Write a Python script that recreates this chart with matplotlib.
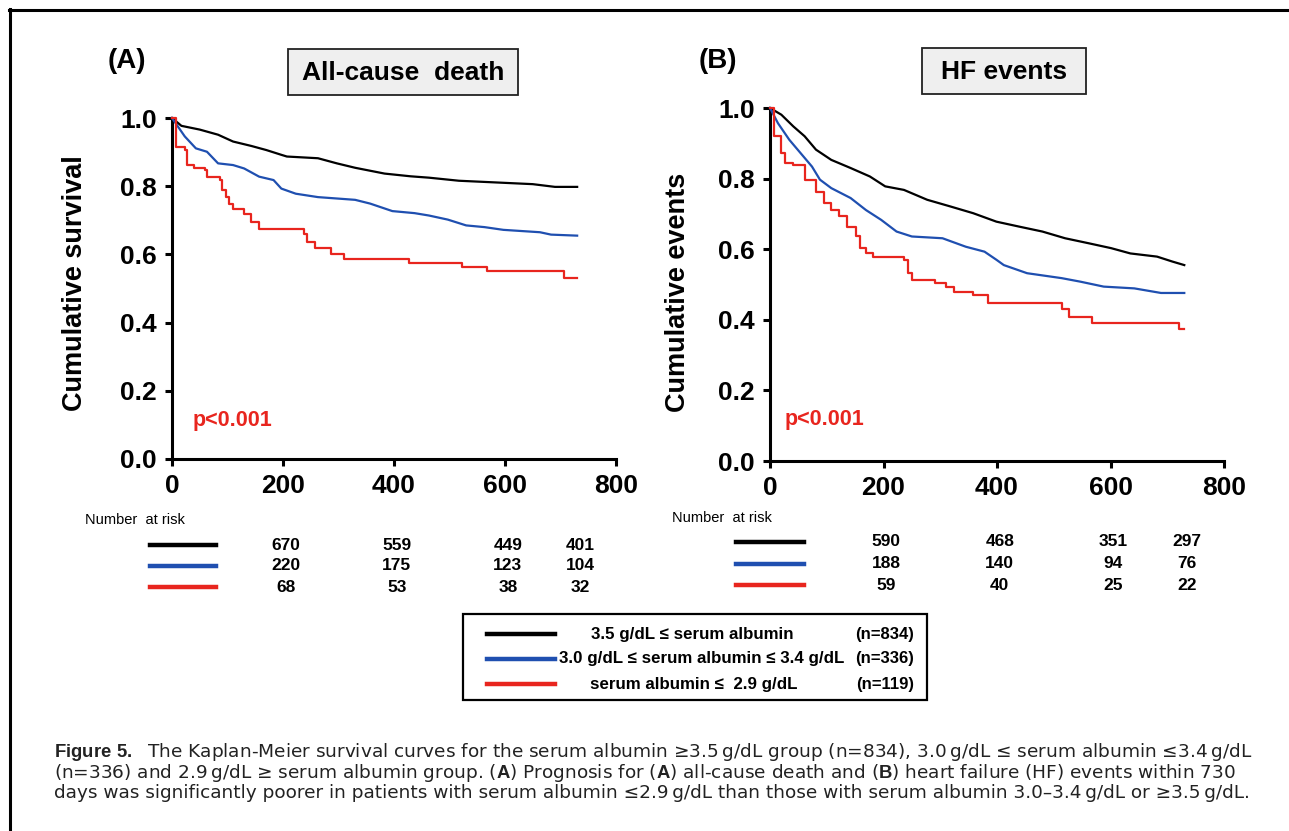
import numpy as np
import matplotlib
matplotlib.use("Agg")
import matplotlib.pyplot as plt
import matplotlib.transforms as mtrans
from matplotlib.patches import Rectangle
from matplotlib.lines import Line2D

# ---------------------------------------------------------------------------
# Data (days, survival)
# ---------------------------------------------------------------------------

death_hi_days = [0, 17, 50, 83, 110, 143, 170, 197, 207, 263, 297, 330, 383, 430,
                 463, 517, 597, 650, 690, 730]
death_hi_surv = [1.0, 0.977, 0.966, 0.951, 0.931, 0.918, 0.906, 0.892, 0.887, 0.882,
                 0.867, 0.854, 0.837, 0.829, 0.825, 0.816, 0.810, 0.806, 0.798, 0.798]

death_mid_days = [0, 23, 43, 63, 83, 110, 130, 157, 183, 197, 223, 263, 330, 357, 397,
                  437, 463, 497, 530, 563, 597, 663, 683, 730]
death_mid_surv = [1.0, 0.946, 0.911, 0.901, 0.867, 0.862, 0.852, 0.828, 0.818, 0.793,
                  0.778, 0.768, 0.760, 0.749, 0.727, 0.721, 0.714, 0.702, 0.685, 0.680,
                  0.672, 0.665, 0.658, 0.655]

death_lo_days = [0, 7, 23, 27, 40, 60, 63, 87, 90, 97, 103, 110, 130, 143, 157, 237,
                 243, 257, 287, 310, 427, 523, 567, 707, 730]
death_lo_surv = [1.0, 0.916, 0.906, 0.862, 0.852, 0.847, 0.828, 0.818, 0.788, 0.768,
                 0.749, 0.734, 0.719, 0.695, 0.675, 0.660, 0.635, 0.618, 0.601, 0.586,
                 0.576, 0.562, 0.552, 0.532, 0.532]

hf_hi_days = [0, 20, 41, 61, 81, 108, 142, 176, 203, 236, 277, 318, 358, 399, 439,
              480, 520, 561, 601, 635, 682, 709, 730]
hf_hi_surv = [1.0, 0.981, 0.948, 0.920, 0.882, 0.853, 0.830, 0.806, 0.778, 0.768,
              0.740, 0.721, 0.702, 0.678, 0.664, 0.650, 0.631, 0.617, 0.603, 0.588,
              0.579, 0.565, 0.555]

hf_mid_days = [0, 14, 34, 54, 74, 88, 108, 142, 169, 196, 223, 250, 304, 345, 378,
               399, 412, 453, 514, 547, 588, 642, 689, 730]
hf_mid_surv = [1.0, 0.957, 0.910, 0.872, 0.834, 0.797, 0.773, 0.745, 0.711, 0.683,
               0.650, 0.636, 0.631, 0.607, 0.593, 0.570, 0.555, 0.532, 0.518, 0.508,
               0.494, 0.489, 0.476, 0.476]

hf_lo_days = [0, 7, 20, 27, 41, 61, 81, 95, 108, 122, 135, 152, 159, 169, 182, 236,
              243, 250, 291, 311, 324, 358, 385, 514, 527, 568, 720, 730]
hf_lo_surv = [1.0, 0.920, 0.872, 0.844, 0.839, 0.797, 0.763, 0.730, 0.711, 0.693,
              0.664, 0.636, 0.603, 0.588, 0.579, 0.570, 0.532, 0.513, 0.503, 0.494,
              0.480, 0.470, 0.447, 0.432, 0.409, 0.392, 0.373, 0.373]

risk_days = [200, 400, 600, 730]
death_risk_hi = [670, 559, 449, 401]
death_risk_mid = [220, 175, 123, 104]
death_risk_lo = [68, 53, 38, 32]
hf_risk_hi = [590, 468, 351, 297]
hf_risk_mid = [188, 140, 94, 76]
hf_risk_lo = [59, 40, 25, 22]

group_labels = ["3.5 g/dL \u2264 serum albumin",
                "3.0 g/dL \u2264 serum albumin \u2264 3.4 g/dL",
                "serum albumin \u2264  2.9 g/dL"]
group_n = ["(n=834)", "(n=336)", "(n=119)"]

caption_lines = [
    "$\\mathbf{Figure\\ 5.}$  The Kaplan-Meier survival curves for the serum albumin "
    "\u22653.5\u2009g/dL group (n=834), 3.0\u2009g/dL \u2264 serum albumin \u22643.4\u2009g/dL",
    "(n=336) and 2.9\u2009g/dL \u2265 serum albumin group. ($\\mathbf{A}$) Prognosis for "
    "($\\mathbf{A}$) all-cause death and ($\\mathbf{B}$) heart failure (HF) events within 730",
    "days was significantly poorer in patients with serum albumin \u22642.9\u2009g/dL than "
    "those with serum albumin 3.0\u20133.4\u2009g/dL or \u22653.5\u2009g/dL.",
]

BLACK, BLUE, RED = "#000000", "#1f4fb0", "#e8251e"
colors = [BLACK, BLUE, RED]
# many tiny steps in the big groups read as a smooth line; the small group shows stairs
styles = ['default', 'default', 'steps-post']

# ---------------------------------------------------------------------------
# Figure setup (pixel helpers: layout measured on a 1289x831 canvas)
# ---------------------------------------------------------------------------

plt.rcParams['font.family'] = ['Liberation Sans', 'DejaVu Sans']
plt.rcParams['mathtext.fontset'] = 'custom'
plt.rcParams['mathtext.rm'] = 'DejaVu Sans'
plt.rcParams['mathtext.bf'] = 'Liberation Sans:bold'

W, H = 1289, 831
fig = plt.figure(figsize=(W / 100, H / 100), dpi=100)
NARROW = ['Liberation Sans Narrow', 'Liberation Sans', 'DejaVu Sans']


def fx(x):
    return x / W


def fy(y):
    return 1 - y / H


def ftext(x, y, s, **kw):
    return fig.text(fx(x), fy(y), s, **kw)


def panel(left, top, right, bottom, curves, ylabel, title_box, tag, tag_xy,
          ylab_xy, p_xy, risk_rows, risk_left, risk_lines):
    ax = fig.add_axes([fx(left), fy(bottom), fx(right) - fx(left), fy(top) - fy(bottom)])
    for (d, s), c, ds in zip(curves, colors, styles):
        ax.plot(d, s, drawstyle=ds, color=c, lw=1.6, clip_on=False, zorder=3)
    ax.set_xlim(0, 800)
    ax.set_ylim(0, 1)
    ax.set_xticks([0, 200, 400, 600, 800])
    ax.set_yticks(np.arange(0, 1.01, 0.2))
    ax.yaxis.set_major_formatter(plt.FormatStrFormatter('%.1f'))
    for s in ['top', 'right']:
        ax.spines[s].set_visible(False)
    for s in ['left', 'bottom']:
        ax.spines[s].set_linewidth(2.2)
    ax.tick_params(direction='out', length=5, width=2.2, labelsize=19, pad=6)
    for lab in ax.get_xticklabels() + ax.get_yticklabels():
        lab.set_fontweight('bold')
    ax.patch.set_alpha(0)

    # p-value
    fig.text(p_xy[0], p_xy[1], 'p<0.001', color=RED, fontsize=15.5,
             fontweight='bold', va='center', ha='left')

    # title box
    (bx0, by0, bx1, by1), title = title_box
    fig.add_artist(Rectangle((fx(bx0), fy(by1)), fx(bx1) - fx(bx0), fy(by0) - fy(by1),
                             transform=fig.transFigure, facecolor='#efefef',
                             edgecolor='#222222', lw=1.3))
    ftext((bx0 + bx1) / 2, (by0 + by1) / 2 + 1, title, fontsize=19,
          fontweight='bold', ha='center', va='center')
    ftext(tag_xy[0], tag_xy[1], tag, fontsize=20, fontweight='bold',
          ha='center', va='center')
    ftext(ylab_xy[0], ylab_xy[1], ylabel, fontsize=19.5, fontweight='bold',
          rotation=90, ha='center', va='center')

    # number at risk table
    ftext(risk_left[0], risk_left[1], 'Number  at risk', fontsize=10.5,
          family=NARROW, ha='left', va='center')
    tr = mtrans.blended_transform_factory(ax.transData, fig.transFigure)
    lx0, lx1 = risk_lines
    for vals, c, ry in zip(risk_rows[0], colors, risk_rows[1]):
        fig.add_artist(Line2D([fx(lx0), fx(lx1)], [fy(ry), fy(ry)], color=c,
                              lw=3.2, transform=fig.transFigure))
        for d, v in zip(risk_days, vals):
            ax.text(d + 5, fy(ry), str(v), transform=tr, fontsize=12.5,
                    fontweight='bold', family=NARROW, ha='center', va='center',
                    clip_on=False)
    return ax


panel(172, 118, 616, 459,
      [(death_hi_days, death_hi_surv), (death_mid_days, death_mid_surv),
       (death_lo_days, death_lo_surv)],
      'Cumulative survival', ((288, 49, 518, 95), 'All-cause  death'),
      '(A)', (127, 61), (75, 283), (fx(193), fy(421)),
      ([death_risk_hi, death_risk_mid, death_risk_lo], [545, 566, 587]),
      (85, 520), (150, 216))

panel(770, 108, 1224, 461,
      [(hf_hi_days, hf_hi_surv), (hf_mid_days, hf_mid_surv),
       (hf_lo_days, hf_lo_surv)],
      'Cumulative events', ((922, 48, 1086, 94), 'HF events'),
      '(B)', (718, 61), (678, 292), (fx(785), fy(420)),
      ([hf_risk_hi, hf_risk_mid, hf_risk_lo], [542, 564, 585]),
      (672, 518), (736, 804))

# ---------------------------------------------------------------------------
# Group legend box
# ---------------------------------------------------------------------------

fig.add_artist(Rectangle((fx(463), fy(700)), fx(927) - fx(463), fy(614) - fy(700),
                         transform=fig.transFigure, facecolor='white',
                         edgecolor='black', lw=1.6))
for lab, n, c, ry, cx in zip(group_labels, group_n, colors, [634, 659, 684],
                             [692, 702, 694]):
    fig.add_artist(Line2D([fx(487), fx(555)], [fy(ry), fy(ry)], color=c, lw=3.2,
                          transform=fig.transFigure))
    ftext(cx, ry, lab, fontsize=12.2, fontweight='bold', ha='center', va='center')
    ftext(885, ry, n, fontsize=12, fontweight='bold', ha='center', va='center')

# ---------------------------------------------------------------------------
# Outer frame and caption
# ---------------------------------------------------------------------------

fig.add_artist(Line2D([fx(9), fx(W)], [fy(10), fy(10)], color='black', lw=2.2,
                      transform=fig.transFigure))
fig.add_artist(Line2D([fx(10), fx(10)], [fy(9), fy(H)], color='black', lw=2.2,
                      transform=fig.transFigure))

ftext(54, 741, '\n'.join(caption_lines), fontsize=13.3, family=['DejaVu Sans'],
      ha='left', va='top', linespacing=0.95, color='#222222')

fig.savefig('out.png', dpi=100)
